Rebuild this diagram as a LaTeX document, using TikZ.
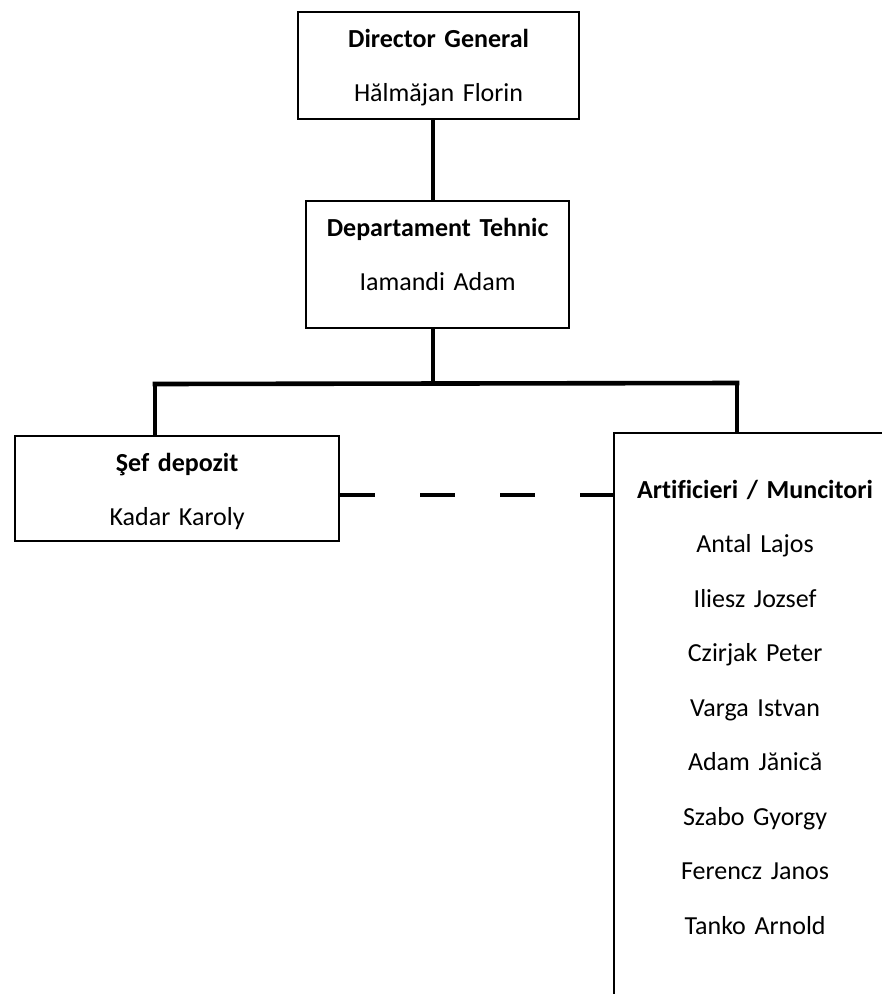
\documentclass[tikz,border=0pt]{standalone}
\usepackage{fontspec}
\setmainfont{Carlito}[Ligatures=CommonOff]
\usetikzlibrary{positioning}

\begin{document}
\begin{tikzpicture}[x=1pt, y=-1pt,
              box/.style = {draw, line width=2.2pt, inner sep=0pt, anchor=north west,
                align=center, text height=35pt,
                font=\fontsize{26}{54}\selectfont},
              link/.style = {line width=4.6pt}]
  \useasboundingbox (0,0) rectangle (882,994);
  \clip (0,0) rectangle (882,994);
  \node[box, text width=281pt, text depth=72pt] (director) at (297,11)
    {\textbf{Director General}\\ Hălmăjan Florin};
  \node[box, text width=263pt, text depth=92pt] (tehnic) at (305,200)
    {\textbf{Departament Tehnic}\\ Iamandi Adam};
  \node[box, text width=324pt, text depth=70pt] (sef) at (14,435)
    {\textbf{Şef depozit}\\ Kadar Karoly};
  \node[box, text width=282pt, text height=65pt, text depth=600pt, font=\fontsize{26}{54.5}\selectfont] (artificieri) at (613,432)
    {\textbf{Artificieri / Muncitori}\\ Antal Lajos\\ Iliesz Jozsef\\ Czirjak Peter\\
     Varga Istvan\\ Adam Jănică\\ Szabo Gyorgy\\ Ferencz Janos\\ Tanko Arnold};
  % ramificatii
  \coordinate (bar) at (433,383);
  \coordinate (barleft) at (155,384);
  \coordinate (barright) at (737,383);
  \coordinate (dashrow) at (0,495);
  \draw[link] (director.south -| bar) -- (tehnic.north -| bar);
  \draw[link] (tehnic.south -| bar) -- (bar);
  \draw[link, line cap=rect] (barleft) -- (barright);
  \draw[link] (barleft) -- (barleft |- sef.north);
  \draw[link] (barright) -- (barright |- artificieri.north);
  \draw[link, dash pattern=on 35pt off 45pt] (sef.east |- dashrow) -- (artificieri.west |- dashrow);
\end{tikzpicture}
\end{document}
